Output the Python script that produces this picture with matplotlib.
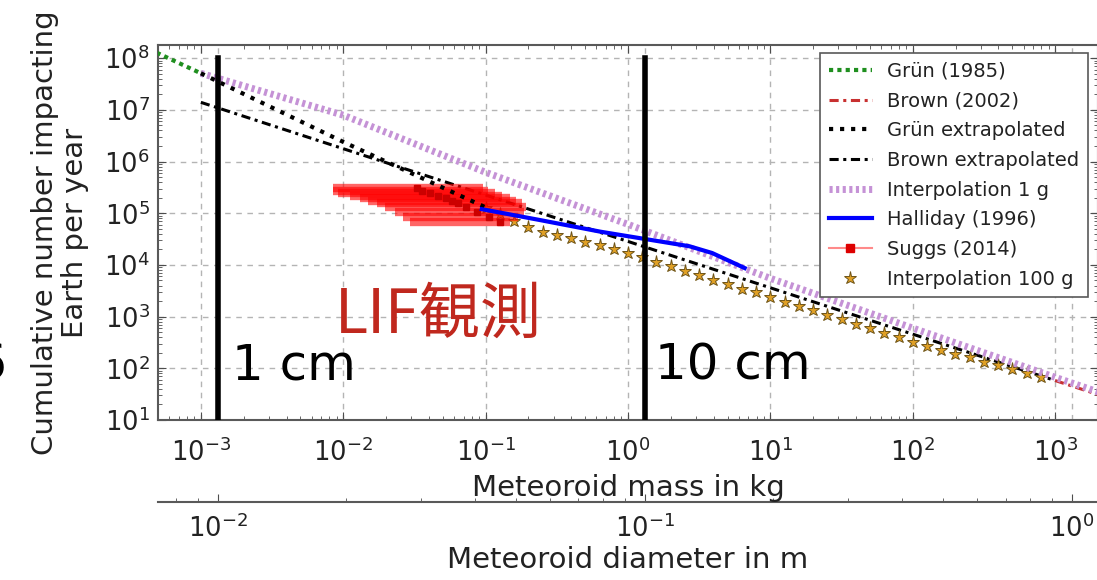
import numpy as np
import matplotlib
matplotlib.use("Agg")
import matplotlib.pyplot as plt
from matplotlib.lines import Line2D
from matplotlib.ticker import (FixedLocator, LogLocator, NullFormatter,
                               LogFormatterMathtext)

# ---- flux data: cumulative number of impacts on Earth per year ----
# Grün (1985) interplanetary flux model
gruen_mass = [3e-4, 1e-3]
gruen_flux = [2.4e8, 5.1e7]
# Grün model extrapolated up to 100 g
gruen_ext_mass = [1e-3, 1e-2, 1e-1]
gruen_ext_flux = [5.1e7, 2.4e6, 1.3e5]
# Brown (2002) bolide flux and its extrapolation to small masses
brown_mass = [1e3, 1e4]
brown_flux = [58, 7.3]
brown_ext_mass = [1e-3, 1e3]
brown_ext_flux = [1.4e7, 58]
# interpolation between the two models, joined at 1 g
interp1g_mass = [1e-3, 1e-2, 1e-1, 1e0, 1e1, 1e2, 1e3, 2e3]
interp1g_flux = [5.1e7, 7.9e6, 6.2e5, 6.1e4, 5.5e3, 6.0e2, 67, 35]
# Halliday (1996) fireball network
halliday_mass = [0.094, 0.24, 0.64, 1.21, 2.7, 3.9, 6.6]
halliday_flux = [1.2e5, 7.4e4, 4.4e4, 3.3e4, 2.3e4, 1.7e4, 8.7e3]
# Suggs (2014) lunar impact flashes, with mass ranges
suggs_mass = [0.033, 0.0357, 0.0406, 0.0462, 0.0526, 0.0581, 0.064,
              0.0728, 0.0869, 0.105, 0.126]
suggs_flux = [3.05e5, 2.73e5, 2.45e5, 2.19e5, 1.96e5, 1.75e5, 1.57e5,
              1.31e5, 1.05e5, 8.4e4, 6.7e4]
suggs_mass_lo = [0.0085, 0.0085, 0.0092, 0.0111, 0.0131, 0.0149, 0.0173,
                 0.0196, 0.0231, 0.0263, 0.0294]
suggs_mass_hi = [0.0957, 0.104, 0.116, 0.130, 0.148, 0.163, 0.180,
                 0.192, 0.186, 0.169, 0.148]
# interpolation joined at 100 g, evaluated every 0.1 decade from 0.1 kg
interp100g_mass = np.logspace(-1, 2.9, 40)
interp100g_flux = [1.29e5, 9.5e4, 7.2e4, 5.4e4, 4.4e4, 3.8e4, 3.3e4, 2.75e4,
                   2.4e4, 2.05e4, 1.7e4, 1.41e4, 1.15e4, 9.5e3, 7.8e3, 6.5e3,
                   5.2e3, 4.3e3, 3.5e3, 2.95e3, 2.4e3, 1.95e3, 1.62e3, 1.32e3,
                   1.07e3, 890, 725, 590, 480, 400, 325, 270, 230, 190, 162,
                   135, 115, 95, 81, 68]

# tick positions
mass_ticks = [1e-3, 1e-2, 1e-1, 1e0, 1e1, 1e2, 1e3]
flux_ticks = [1e1, 1e2, 1e3, 1e4, 1e5, 1e6, 1e7, 1e8]
diam_ticks = [1e-2, 1e-1, 1e0]

# marked diameters (m) and their labels
marked_diam = [0.01, 0.1]
marked_labels = ["1 cm", "10 cm"]

rho = 2500.0  # bulk density, kg/m^3


def mass_to_diam(m):
    m = np.asarray(m, dtype=float)
    return np.cbrt(6.0 * np.clip(m, 1e-30, None) / (np.pi * rho))


def diam_to_mass(d):
    d = np.asarray(d, dtype=float)
    return np.pi * rho / 6.0 * np.clip(d, 1e-30, None) ** 3


W, H = 1097, 580
fig = plt.figure(figsize=(W / 100, H / 100), dpi=100)
ax = fig.add_axes([158 / W, 1 - 420 / H, 940 / W, 375 / H])
ax.set_xscale("log")
ax.set_yscale("log")
ax.set_xlim(5e-4, 2e3)
ax.set_ylim(10, 1.8e8)
ax.xaxis.set_major_locator(FixedLocator(mass_ticks))
ax.yaxis.set_major_locator(FixedLocator(flux_ticks))
for axis in (ax.xaxis, ax.yaxis):
    axis.set_major_formatter(LogFormatterMathtext())
    axis.set_minor_locator(LogLocator(base=10, subs=np.arange(2, 10),
                                      numticks=20))
    axis.set_minor_formatter(NullFormatter())

grid_kw = dict(color="#b4b4b4", lw=1.0, ls=(0, (4, 4)))
ax.grid(True, which="major", **grid_kw)
for d in diam_ticks:
    ax.axvline(diam_to_mass(d), zorder=0.5, **grid_kw)

# Suggs mass ranges as horizontal error bars
suggs_err = [np.subtract(suggs_mass, suggs_mass_lo),
             np.subtract(suggs_mass_hi, suggs_mass)]
ax.errorbar(suggs_mass, suggs_flux, xerr=suggs_err, fmt="s",
            color="#cc0000", ms=5, ecolor=(1, 0.0, 0.0, 0.6),
            elinewidth=6, capsize=0, zorder=3.12)
h_suggs = Line2D([], [], color="#ff8a8a", lw=1.5, marker="s", ms=6,
                 mfc="#dd0000", mec="#dd0000", label="Suggs (2014)")

h_g, = ax.plot(gruen_mass, gruen_flux, ls=(0, (1, 1)), color="#1f8f1f",
               lw=3, zorder=3, label="Grün (1985)")
h_b, = ax.plot(brown_mass, brown_flux, ls=(0, (3, 1.5, 1, 1.5)),
               color="#c83030", lw=2.2, zorder=3, label="Brown (2002)")
h_ge, = ax.plot(gruen_ext_mass, gruen_ext_flux, ls=":", color="k", lw=3,
                zorder=3.2, label="Grün extrapolated")
h_be, = ax.plot(brown_ext_mass, brown_ext_flux, ls=(0, (3, 1.5, 1, 1.5)),
                color="k", lw=2.2, zorder=3, label="Brown extrapolated")
h_i1, = ax.plot(interp1g_mass, interp1g_flux, ls=(0, (0.45, 0.5)),
                color="#c592d6", lw=5, zorder=3.1, label="Interpolation 1 g")
h_h, = ax.plot(halliday_mass, halliday_flux, ls="-", color="#0000ff", lw=3,
               zorder=3.3, label="Halliday (1996)")
h_i100, = ax.plot(interp100g_mass, interp100g_flux, ls="none", marker="*",
                  ms=9.5, color="#e0a025", mec="#6e5418", mew=0.7,
                  zorder=3.05, label="Interpolation 100 g")

# vertical markers at fixed diameters
for d in marked_diam:
    ax.plot([diam_to_mass(d)] * 2, [10, 1e8], color="k", lw=4, zorder=4)

for side in ax.spines.values():
    side.set_color("0.35")
    side.set_linewidth(1.5)
ax.tick_params(which="both", direction="in", top=True, right=True,
               colors="0.3", labelcolor="#222222", labelsize=18.5)
ax.tick_params(which="major", length=6, pad=13)
ax.tick_params(which="minor", length=3)
ax.tick_params(axis="y", pad=6)

ax.set_xlabel("Meteoroid mass in kg", fontsize=21, color="#222222",
              labelpad=5)
ax.set_ylabel("Cumulative number impacting\nEarth per year", fontsize=21,
              color="#222222", linespacing=1.1)
ax.yaxis.set_label_coords(-0.073, 0.5)

sec = ax.secondary_xaxis(-0.2187, functions=(mass_to_diam, diam_to_mass))
sec.xaxis.set_major_locator(FixedLocator(diam_ticks))
sec.xaxis.set_major_formatter(LogFormatterMathtext())
sec.spines["bottom"].set_color("0.35")
sec.spines["bottom"].set_linewidth(1.5)
sec.tick_params(which="both", direction="in", colors="0.3",
                labelcolor="#222222", labelsize=18.5, pad=9)
sec.tick_params(which="major", length=6)
sec.tick_params(which="minor", length=3)
sec.set_xlabel("Meteoroid diameter in m", fontsize=21, color="#222222",
               labelpad=2)

handles = [h_g, h_b, h_ge, h_be, h_i1, h_h, h_suggs, h_i100]
leg = ax.legend(handles=handles, loc="upper right",
                bbox_to_anchor=(1088 / W, 1 - 53 / H),
                bbox_transform=fig.transFigure, borderaxespad=0,
                fontsize=14, fancybox=False, edgecolor="0.35",
                framealpha=1, handlelength=2.2, labelspacing=0.55,
                borderpad=0.45, numpoints=1)
leg.get_frame().set_linewidth(1.2)
leg.set_zorder(10)
for txt in leg.get_texts():
    txt.set_color("#222222")

# annotations
fig.text(232 / W, 1 - 366 / H, marked_labels[0], fontsize=36, va="center",
         ha="left", color="k")
fig.text(655 / W, 1 - 366 / H, marked_labels[1], fontsize=36, va="center",
         ha="left", color="k")
fig.text(335 / W, 1 - 316 / H, "LIF観測", fontsize=44, va="center",
         ha="left", color="#c0281e",
         family=["Noto Sans CJK JP", "DejaVu Sans"])
fig.text(-26 / W, 1 - 366 / H, "6", fontsize=36, va="center", ha="left",
         color="k")

fig.savefig("out.png", dpi=100)
